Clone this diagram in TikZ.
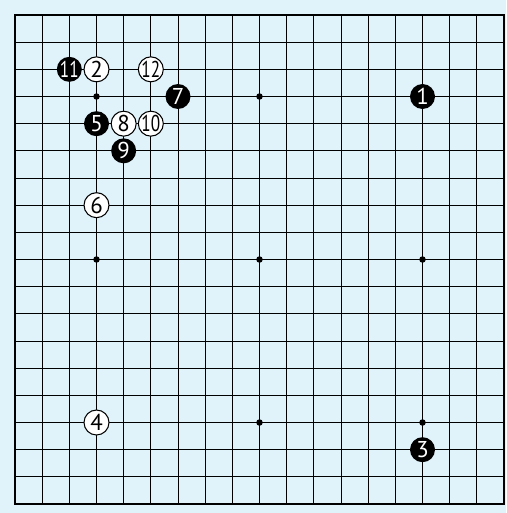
\documentclass[tikz,border=0pt]{standalone}
\usepackage{graphicx}
\usepackage{fontspec}
\setsansfont{PT Sans}
\usepackage{tikz}
\usetikzlibrary{positioning}
\definecolor{boardblue}{RGB}{224,242,250}

\begin{document}
\begin{tikzpicture}[
  x=1cm, y=-1cm,
  gridline/.style={line width=1pt, black},
  stone/.style={circle, minimum size=0.92cm, inner sep=0pt,
    font=\sffamily\fontsize{24}{24}\selectfont},
  blackstone/.style={stone, fill=black, text=white},
  whitestone/.style={stone, draw=black, line width=1.1pt, fill=white, text=black}
]
% board
\fill[boardblue] (-0.552,-0.552) rectangle (18.074,18.331);
\foreach \i in {1,...,17} {
  \draw[gridline] (\i,0) -- (\i,18);
  \draw[gridline] (0,\i) -- (18,\i);
}
\draw[line width=2pt] (0,0) rectangle (18,18);
\foreach \x in {3,9,15}
  \foreach \y in {3,9,15}
    \fill (\x,\y) circle (0.12);

% stones
\node[blackstone] (m1) at (15,3) {1};
\node[whitestone] (m2) at (3,2) {2};
\node[blackstone] (m3) at (15,16) {3};
\node[whitestone] (m4) at (3,15) {4};
\node[blackstone] (m5) at (3,4) {5};
\node[whitestone] (m6) at (3,7) {6};
\node[blackstone] (m7) at (6,3) {7};
\node[whitestone] (m8) at (4,4) {8};
\node[blackstone] (m9) at (4,5) {9};
\node[whitestone] (m10) at (5,4) {\scalebox{0.75}[1]{10}};
\node[blackstone] (m11) at (2,2) {\scalebox{0.75}[1]{11}};
\node[whitestone] (m12) at (5,2) {\scalebox{0.75}[1]{12}};
\end{tikzpicture}
\end{document}
